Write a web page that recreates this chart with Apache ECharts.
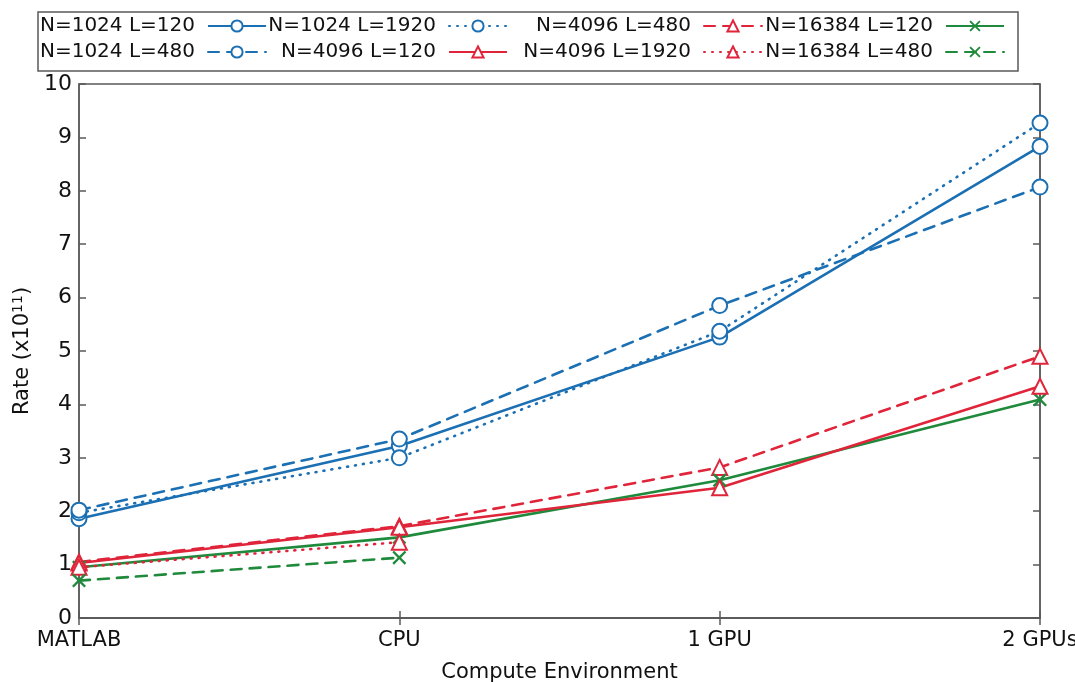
<!DOCTYPE html>
<html>
<head>
<meta charset="UTF-8">
<title>Rate vs Compute Environment</title>
<script src="https://cdn.jsdelivr.net/npm/echarts@6.0.0/dist/echarts.min.js"></script>
<style>
  html, body { margin: 0; padding: 0; background: #fff; }
  #chart { width: 1075px; height: 682px; }
</style>
</head>
<body>
<div id="chart"></div>
<script>
// categories and values (rate in units of 1e11)
const categories = ['MATLAB', 'CPU', '1 GPU', '2 GPUs'];
const yTicks = [0, 10, 1]; // min, max, step

const n1024L120 = [1.86, 3.22, 5.26, 8.83];
const n1024L1920 = [1.97, 3.00, 5.37, 9.27];
const n1024L480 = [2.02, 3.35, 5.85, 8.07];
const n4096L480 = [1.05, 1.72, 2.82, 4.90];
const n4096L120 = [1.03, 1.70, 2.44, 4.34];
const n4096L1920 = [0.95, 1.42, null, null];
const n16384L120 = [0.95, 1.51, 2.58, 4.09];
const n16384L480 = [0.70, 1.13, null, null];

const BLUE = '#1b6fb3';
const RED = '#e0243a';
const GREEN = '#1f8a3c';
const AXIS = '#5a5a5a';
const FONT = 'DejaVu Sans';

const crossPath = 'path://M0,1.2L1.2,0L5,3.8L8.8,0L10,1.2L6.2,5L10,8.8L8.8,10L5,6.2L1.2,10L0,8.8L3.8,5Z';

function mkSeries(name, data, color, dash, symbol) {
  const isCross = symbol === crossPath;
  return {
    name: name,
    type: 'line',
    data: data,
    connectNulls: false,
    symbol: symbol,
    symbolSize: isCross ? 14 : 15,
    showAllSymbol: true,
    lineStyle: { color: color, width: 2.6, type: dash, cap: dash === 'solid' ? 'butt' : 'round' },
    itemStyle: isCross
      ? { color: color, borderWidth: 0 }
      : { color: color, borderColor: color, borderWidth: 2.8 },
    emphasis: { disabled: true },
    z: 3
  };
}

const DASH = [11, 8];
const DOT = [1, 7];
const circ = 'emptyCircle';
const tri = 'emptyTriangle';

const series = [
  mkSeries('N=1024 L=120', n1024L120, BLUE, 'solid', circ),
  mkSeries('N=1024 L=1920', n1024L1920, BLUE, DOT, circ),
  mkSeries('N=4096 L=480', n4096L480, RED, DASH, tri),
  mkSeries('N=16384 L=120', n16384L120, GREEN, 'solid', crossPath),
  mkSeries('N=1024 L=480', n1024L480, BLUE, DASH, circ),
  mkSeries('N=4096 L=120', n4096L120, RED, 'solid', tri),
  mkSeries('N=4096 L=1920', n4096L1920, RED, DOT, tri),
  mkSeries('N=16384 L=480', n16384L480, GREEN, DASH, crossPath)
];

// legend: text followed by the line sample, right aligned per column
const colRight = [808, 567, 312, 70];
const rowTop = [16, 42];
const legends = series.map(function (s, i) {
  return {
    data: [s.name],
    right: colRight[i % 4],
    top: rowTop[Math.floor(i / 4)],
    align: 'right',
    padding: 0,
    itemWidth: 58,
    itemHeight: 14,
    selectedMode: false,
    textStyle: { fontFamily: FONT, fontSize: 20, color: '#111', padding: [0, 8, 0, 0] }
  };
});

const chart = echarts.init(document.getElementById('chart'), null, { renderer: 'canvas' });

const option = {
  animation: false,
  backgroundColor: '#fff',
  legend: legends,
  graphic: [{
    type: 'rect',
    shape: { x: 38, y: 12, width: 980, height: 59 },
    style: { fill: 'none', stroke: AXIS, lineWidth: 1.5 },
    silent: true
  }],
  grid: {
    left: 79, right: 35, top: 84, bottom: 64,
    outerBoundsMode: 'none',
    containLabel: false,
    show: true, borderColor: AXIS, borderWidth: 1.5, backgroundColor: 'transparent'
  },
  xAxis: [{
    type: 'category',
    data: categories,
    boundaryGap: false,
    axisLine: { lineStyle: { color: AXIS, width: 1.5 } },
    axisTick: { inside: true, length: 7, lineStyle: { color: AXIS, width: 1.5 } },
    axisLabel: { fontFamily: FONT, fontSize: 21, color: '#111', margin: 12, showMaxLabel: true },
    name: 'Compute Environment',
    nameLocation: 'middle',
    nameGap: 44,
    nameTextStyle: { fontFamily: FONT, fontSize: 21, color: '#111' }
  }, {
    type: 'category',
    data: categories,
    position: 'top',
    boundaryGap: false,
    axisLine: { lineStyle: { color: AXIS, width: 1.5 } },
    axisTick: { inside: true, length: 7, lineStyle: { color: AXIS, width: 1.5 } },
    axisLabel: { show: false }
  }],
  yAxis: [{
    type: 'value',
    min: yTicks[0], max: yTicks[1], interval: yTicks[2],
    splitLine: { show: false },
    axisLine: { show: true, lineStyle: { color: AXIS, width: 1.5 } },
    axisTick: { show: true, inside: true, length: 7, lineStyle: { color: AXIS, width: 1.5 } },
    axisLabel: { fontFamily: FONT, fontSize: 22, color: '#111', margin: 7 },
    name: '{n|Rate (x10}{s|11}{n|)}',
    nameLocation: 'middle',
    nameRotate: 90,
    nameGap: 33,
    nameTextStyle: {
      rich: {
        n: { fontFamily: FONT, fontSize: 21, color: '#111' },
        s: { fontFamily: FONT, fontSize: 14, color: '#111', verticalAlign: 'top', padding: [0, 0, 8, 0] }
      }
    }
  }, {
    type: 'value',
    position: 'right',
    min: yTicks[0], max: yTicks[1], interval: yTicks[2],
    splitLine: { show: false },
    axisLine: { show: true, lineStyle: { color: AXIS, width: 1.5 } },
    axisTick: { show: true, inside: true, length: 7, lineStyle: { color: AXIS, width: 1.5 } },
    axisLabel: { show: false }
  }],
  series: series
};

chart.setOption(option);
window.addEventListener('resize', function () { chart.resize(); });
</script>
</body>
</html>
